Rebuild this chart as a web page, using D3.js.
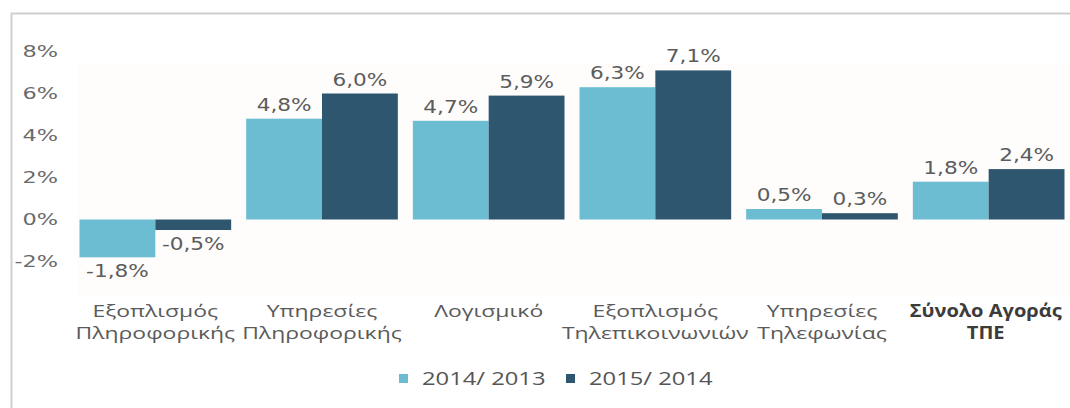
<!DOCTYPE html>
<html>
<head>
<meta charset="utf-8">
<script src="https://cdn.jsdelivr.net/npm/d3@7"></script>
<style>
  body { margin: 0; background: #fff; }
  svg { display: block; }
</style>
</head>
<body>
<div id="chart"></div>
<script>
var categories = [
  ["Εξοπλισμός", "Πληροφορικής"],
  ["Υπηρεσίες", "Πληροφορικής"],
  ["Λογισμικό"],
  ["Εξοπλισμός", "Τηλεπικοινωνιών"],
  ["Υπηρεσίες", "Τηλεφωνίας"],
  ["Σύνολο Αγοράς", "ΤΠΕ"]
];
var seriesNames = ["2014/ 2013", "2015/ 2014"];
var growth1413 = [-1.8, 4.8, 4.7, 6.3, 0.5, 1.8];
var growth1514 = [-0.5, 6.0, 5.9, 7.1, 0.3, 2.4];
var yTicks = [-2, 0, 2, 4, 6, 8];

var colors = ["#6cbdd1", "#2f566f"];

var width = 1070, height = 408;

var svg = d3.select("#chart").append("svg")
  .attr("width", width)
  .attr("height", height);

// frame
svg.append("path")
  .attr("d", "M11.5,408 V13.5 H1070")
  .attr("fill", "none")
  .attr("stroke", "#cfcfcf")
  .attr("stroke-width", 2);

// faint plot background
svg.append("rect")
  .attr("x", 77).attr("y", 64)
  .attr("width", 993).attr("height", 232)
  .attr("fill", "#fefdfc");

var x0 = d3.scaleBand()
  .domain(d3.range(categories.length))
  .range([72, 1072])
  .paddingInner(0.09)
  .paddingOuter(0.045);

var x1 = d3.scaleBand()
  .domain([0, 1])
  .range([0, x0.bandwidth()]);

var y = d3.scaleLinear()
  .domain([-2, 8])
  .range([261.5, 51.5]);

var fmt = d3.formatLocale({decimal: ",", thousands: ".", grouping: [3], currency: ["", "€"], minus: "-"}).format(".1f");

// y axis
var yAxis = d3.axisLeft(y)
  .tickValues(yTicks)
  .tickSize(0)
  .tickPadding(0)
  .tickFormat(d => d + "%");

var yg = svg.append("g")
  .attr("transform", "translate(58,0)")
  .call(yAxis);
yg.select(".domain").remove();
yg.selectAll("text")
  .attr("font-family", "DejaVu Sans")
  .attr("font-size", 16)
  .attr("fill", "#6a6a6a")
  .attr("transform", "scale(1.4,1)");

var series = [growth1413, growth1514];
var rows = [];
series.forEach(function(vals, s) {
  vals.forEach(function(v, i) { rows.push({s: s, i: i, v: v}); });
});

var barG = svg.append("g");
barG.selectAll("rect")
  .data(rows)
  .enter().append("rect")
  .attr("x", d => x0(d.i) + x1(d.s))
  .attr("y", d => y(Math.max(0, d.v)))
  .attr("width", x1.bandwidth())
  .attr("height", d => Math.abs(y(d.v) - y(0)))
  .attr("fill", d => colors[d.s]);

// value labels
svg.append("g").selectAll("text")
  .data(rows)
  .enter().append("text")
  .attr("transform", function(d) {
    var cx = x0(d.i) + x1(d.s) + x1.bandwidth() / 2;
    var cy = d.v >= 0 ? y(d.v) - 8 : y(d.v) + 20;
    return "translate(" + cx + "," + cy + ") scale(1.2,1)";
  })
  .attr("text-anchor", "middle")
  .attr("font-family", "DejaVu Sans")
  .attr("font-size", 18)
  .attr("fill", "#5c5c5c")
  .text(d => fmt(d.v) + "%");

// category labels
var catG = svg.append("g").selectAll("g")
  .data(categories)
  .enter().append("g")
  .attr("transform", (d, i) => "translate(" + (x0(i) + x0.bandwidth() / 2) + ",0)");

catG.each(function(lines, i) {
  var last = i === categories.length - 1;
  d3.select(this).selectAll("text")
    .data(lines)
    .enter().append("text")
    .attr("transform", (t, k) => "translate(" + (last ? -3 : 0) + "," + (317 + k * 22) + ") scale(" + (last ? 1.18 : 1.35) + ",1)")
    .attr("text-anchor", "middle")
    .attr("font-family", "Open Sans")
    .attr("font-size", 17)
    .attr("font-weight", last ? "bold" : "normal")
    .attr("fill", last ? "#3c3c3c" : "#5a5a5a")
    .text(t => t);
});

// legend
var legendX = [399, 566];
var leg = svg.append("g").selectAll("g")
  .data(seriesNames)
  .enter().append("g")
  .attr("transform", (d, i) => "translate(" + legendX[i] + ",374)");
leg.append("rect")
  .attr("width", 9).attr("height", 9)
  .attr("fill", (d, i) => colors[i]);
leg.append("text")
  .attr("transform", "translate(23,11) scale(1.25,1)")
  .attr("font-family", "Open Sans")
  .attr("font-size", 19)
  .attr("fill", "#555")
  .text(d => d);
</script>
</body>
</html>
